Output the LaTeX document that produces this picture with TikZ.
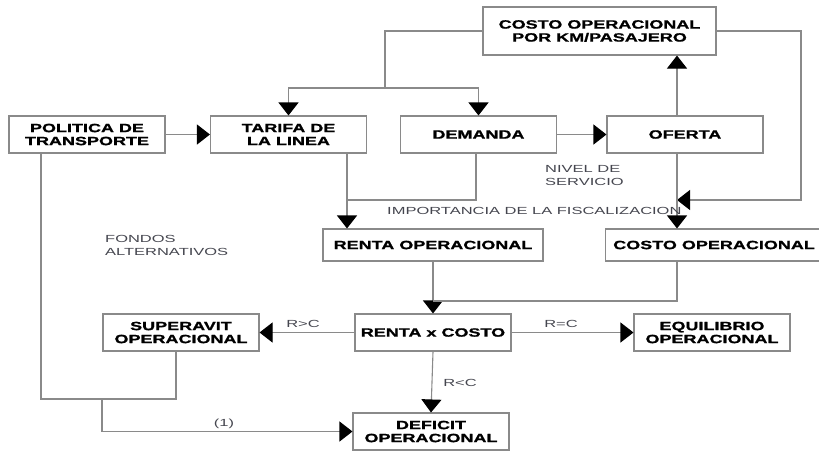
\documentclass[tikz,border=0pt]{standalone}
\usepackage{fontspec}
\usetikzlibrary{arrows.meta}
\newfontfamily\boxfont{Liberation Sans}[FakeStretch=1.5, BoldFeatures={FakeBold=1.2}]
\newfontfamily\labfont{Liberation Sans}[FakeStretch=1.6]
\definecolor{linegrey}{HTML}{8A8A8A}
\definecolor{labgrey}{HTML}{45464F}
\tikzset{
	flowbox/.style={draw=linegrey, line width=1.1pt, fill=white, minimum width=156pt, minimum height=37pt,
		align=center, inner sep=0pt, font=\boxfont\bfseries\fontsize{12}{13}\selectfont, text=black},
	flowline/.style={draw=linegrey, line width=1.1pt},
	flowarrow/.style={flowline, -{Triangle[length=13pt,width=20pt,fill=black,color=black]}},
	flowlabel/.style={text=labgrey, align=left, inner sep=0pt, font=\labfont\fontsize{10.3}{13}\selectfont}
}

\begin{document}
\begin{tikzpicture}[x=1pt, y=-1pt]
\useasboundingbox (0,0) rectangle (819,451);
\clip (0,0) rectangle (819,451);

% boxes
\node[flowbox] (pol) at (87,134.5) {POLITICA DE\\TRANSPORTE};
\node[flowbox] (tar) at (288.5,134.5) {TARIFA DE\\LA LINEA};
\node[flowbox] (dem) at (478.5,134.5) {DEMANDA};
\node[flowbox] (ofe) at (685,134.5) {OFERTA};
\node[flowbox, minimum width=233pt, minimum height=48pt] (ckm) at (599.5,31) {COSTO OPERACIONAL\\POR KM/PASAJERO};
\node[flowbox, minimum width=220pt, minimum height=32pt] (rop) at (433,245) {RENTA OPERACIONAL};
\node[flowbox, minimum width=220pt, minimum height=32pt, anchor=west] (cop) at (605,245) {COSTO OPERACIONAL\hspace*{3pt}};
\node[flowbox] (sup) at (181,332.5) {SUPERAVIT\\OPERACIONAL};
\node[flowbox] (rxc) at (433,332.5) {RENTA x COSTO};
\node[flowbox] (equ) at (712,332.5) {EQUILIBRIO\\OPERACIONAL};
\node[flowbox] (def) at (431,431.5) {DEFICIT\\OPERACIONAL};

% helper points
\coordinate (split) at (385,88);
\coordinate (vline) at (677,0);
\coordinate (tarx) at (347,0);
\coordinate (demx) at (476,0);
\coordinate (join) at (347,200);
\coordinate (merge) at (433,301);
\coordinate (polx) at (41,0);
\coordinate (supx) at (176,399);
\coordinate (fund) at (102,399);

% connectors
\draw[flowarrow] (pol.east) -- (tar.west);
\draw[flowarrow] (dem.east) -- (ofe.west);
\draw[flowline] (ckm.west) -| (split);
\draw[flowarrow] (split) -| (tar.north);
\draw[flowarrow] (split) -| (dem.north);
\draw[flowarrow] (ofe.north -| vline) -- (ckm.south -| vline);
\draw[flowarrow] (ckm.east) -| (801,200) -- (vline |- 0,200);
\draw[flowarrow] (ofe.south -| vline) -- (cop.north -| vline);
\draw[flowarrow] (tar.south -| tarx) -- (rop.north -| tarx);
\draw[flowline] (dem.south -| demx) |- (join);
\draw[flowarrow] (rop.south) -- (rxc.north);
\draw[flowline] (cop.south -| vline) |- (merge);
\draw[flowarrow] (rxc.west) -- (sup.east);
\draw[flowarrow] (rxc.east) -- (equ.west);
\draw[flowarrow] (rxc.south) -- (def.north);
\draw[flowline] (pol.south -| polx) |- (supx) -- (sup.south -| supx);
\draw[flowarrow] (fund) |- (def.west);

% labels
\node[flowlabel, anchor=north west] (nivel) at (545,165) {NIVEL DE\\SERVICIO};
\node[flowlabel, anchor=west] (fisc) at (387,211) {IMPORTANCIA DE LA FISCALIZACION};
\node[flowlabel, anchor=north west] (fondos) at (105,235) {FONDOS\\ALTERNATIVOS};
\node[flowlabel] (rgc) at (303,324) {R>C};
\node[flowlabel] (req) at (561,324) {R=C};
\node[flowlabel] (rlc) at (460,383) {R<C};
\node[flowlabel] (one) at (224,424) {(1)};
\end{tikzpicture}
\end{document}
